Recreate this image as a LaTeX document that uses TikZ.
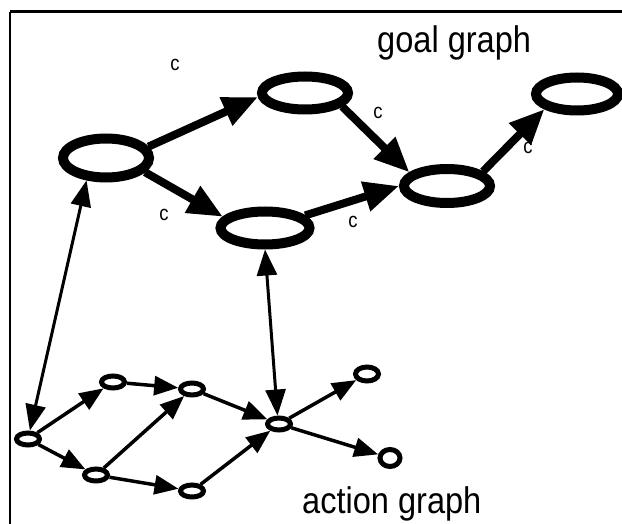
\documentclass[tikz,border=0pt]{standalone}
\usepackage{fontspec}
\setmainfont{Liberation Sans}[FakeStretch=0.88]
\usetikzlibrary{arrows.meta,shapes.geometric}
\tikzset{
  goalnode/.style={ellipse,draw,line width=10pt,minimum width=86pt,
                   minimum height=33pt,inner sep=0pt},
  actnode/.style={ellipse,draw,line width=5pt,minimum width=23pt,
                  minimum height=12pt,inner sep=0pt},
  goalarr/.style={-{Triangle[length=35pt,width=29pt]},line width=8pt},
  actarr/.style={-{Triangle[length=24pt,width=19pt]},line width=3.5pt},
  linkarr/.style={{Triangle[length=26pt,width=20pt]}-{Triangle[length=26pt,width=20pt]},
                  line width=3pt},
  clabel/.style={font=\fontsize{21}{21}\selectfont,inner sep=0pt},
  title/.style={font=\fontsize{37}{40}\selectfont,inner sep=0pt,anchor=base west}
}
\begin{document}
\begin{tikzpicture}[x=1pt,y=-1pt]
    \path[use as bounding box] (0,0) rectangle (622,524);
    \draw[line width=3pt] (622,12) -- (10,12);
    \draw[line width=2.5pt] (10,12) -- (10,524);

    % goal graph
    \node[goalnode,minimum height=39pt] (g1) at (106,158) {};
    \node[goalnode] (g2) at (305,93) {};
    \node[goalnode,minimum width=89pt] (g3) at (265,228) {};
    \node[goalnode,minimum height=34pt] (g4) at (447,186) {};
    \node[goalnode,minimum width=82pt] (g5) at (577,94) {};

    \draw[goalarr] (g1.15) -- (g2.185);
    \draw[goalarr] (g1.-20) -- (g3.165);
    \draw[goalarr] (g2.-20) -- (g4.160);
    \draw[goalarr] (g3) -- (g4.west);
    \draw[goalarr] (g4.22) -- (g5.205);

    \node[clabel] (c1) at (175,65) {c};
    \node[clabel] (c2) at (378,113) {c};
    \node[clabel] (c3) at (164,215) {c};
    \node[clabel] (c4) at (353,222) {c};
    \node[clabel] (c5) at (528,148) {c};
    \node[title] (goaltitle) at (377,53) {goal graph};

    % action graph
    \node[actnode] (a1) at (28,439) {};
    \node[actnode] (a2) at (113,382) {};
    \node[actnode] (a3) at (192,389) {};
    \node[actnode] (a4) at (96,475) {};
    \node[actnode] (a5) at (192,491) {};
    \node[actnode] (a6) at (279,424) {};
    \node[actnode,minimum height=14pt] (a7) at (367,374) {};
    \node[actnode,minimum width=20pt,minimum height=17pt] (a8) at (390,458) {};

    \draw[actarr] (a1) -- (a2);
    \draw[actarr] (a1) -- (a4);
    \draw[actarr] (a2) -- (a3);
    \draw[actarr] (a4) -- (a3);
    \draw[actarr] (a4) -- (a5);
    \draw[actarr] (a3) -- (a6);
    \draw[actarr] (a5) -- (a6);
    \draw[actarr] (a6) -- (a7);
    \draw[actarr] (a6) -- (a8);
    \node[title] (acttitle) at (302,513) {action graph};

    % links between the graphs
    \draw[linkarr] (a1) -- (g1.229);
    \draw[linkarr] (a6.100) -- (g3.south);
  \end{tikzpicture}
\end{document}
